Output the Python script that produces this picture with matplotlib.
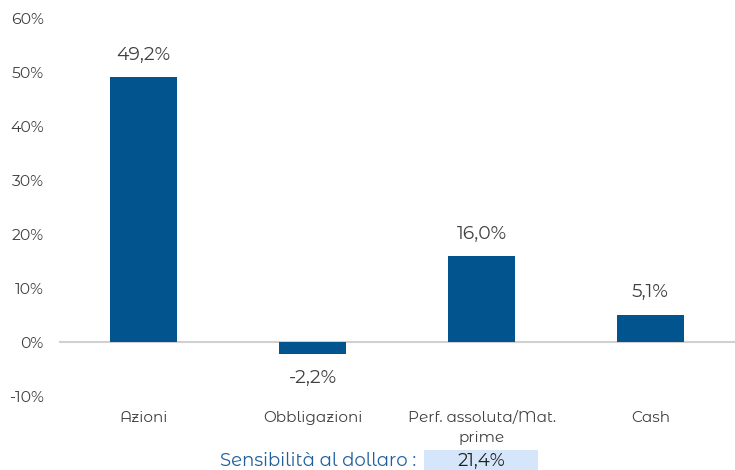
import numpy as np
import matplotlib
matplotlib.use("Agg")
import matplotlib.pyplot as plt
from matplotlib.patches import Rectangle
from matplotlib.ticker import FuncFormatter

# data
categories = ["Azioni", "Obbligazioni", "Perf. assoluta/Mat.\nprime", "Cash"]
values = [49.2, -2.2, 16.0, 5.1]
sensitivity_label = "Sensibilità al dollaro :"
sensitivity_value = "21,4%"

bar_color = "#02548F"
text_color = "#404040"

plt.rcParams['font.family'] = ['Montserrat Alternates', 'DejaVu Sans']

fig = plt.figure(figsize=(7.35, 4.7), dpi=100)
ax = fig.add_axes([0.0803, 0.1574, 0.9197, 0.8022])

x = np.arange(len(categories))
ax.bar(x, values, width=0.40, color=bar_color, zorder=3)
ax.axhline(0, color="#D0D0D0", lw=1.5, zorder=2)

def pct(v):
    return f"{v:.1f}%".replace(".", ",")

for xi, v in zip(x, values):
    off = 16 if v >= 0 else -17
    ax.annotate(pct(v), (xi, v), xytext=(0, off), textcoords="offset points",
                ha="center", va="center", fontsize=13.5, color=text_color)

ax.set_xlim(-0.5, 3.5)
ax.set_ylim(-10, 60)
ax.set_yticks(np.arange(-10, 61, 10))
ax.yaxis.set_major_formatter(FuncFormatter(lambda v, p: f"{v:.0f}%"))
ax.tick_params(axis="y", length=0, pad=11, labelsize=11.3, labelcolor=text_color)
ax.set_xticks(x)
ax.set_xticklabels([])
for s in ax.spines.values():
    s.set_visible(False)
ax.tick_params(axis="x", length=0)

# category labels sit below the plot area
for xi, c in zip(x, categories):
    ax.text(xi, -12.8, c, ha="center", va="top", fontsize=11, color=text_color,
            linespacing=1.55, clip_on=False)

fig.patches.append(Rectangle((424 / 735, 0), 114 / 735, 20 / 470,
                             transform=fig.transFigure, fc="#D6E6FA", ec="none"))
fig.text(416 / 735, 9 / 470, sensitivity_label, ha="right", va="center",
         fontsize=13, color="#1F5F9E")
fig.text(481 / 735, 9 / 470, sensitivity_value, ha="center", va="center",
         fontsize=13, color="#202020")

fig.savefig("out.png", dpi=100)
